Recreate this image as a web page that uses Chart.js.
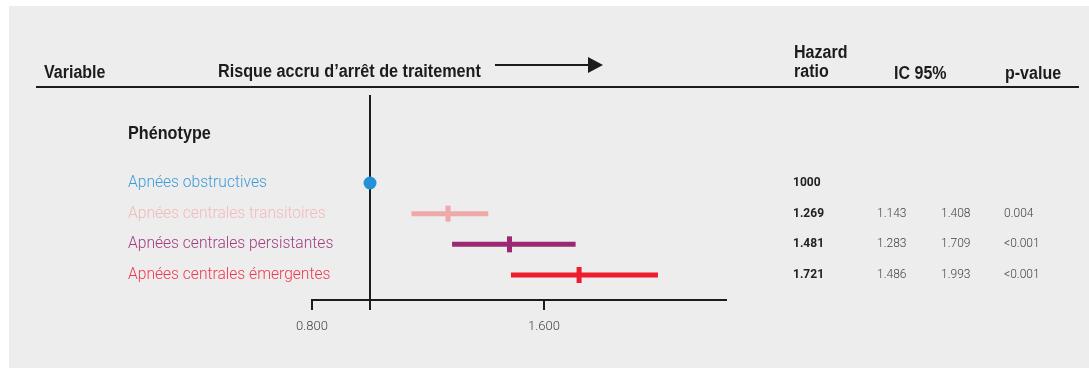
<!DOCTYPE html>
<html lang="fr">
<head>
<meta charset="utf-8">
<title>Phénotype – Hazard ratio</title>
<script src="https://cdn.jsdelivr.net/npm/chart.js@4/dist/chart.umd.min.js"></script>
<style>
  html, body { margin: 0; padding: 0; background: #ffffff; }
  canvas { display: block; }
</style>
</head>
<body>
<canvas id="forest" width="1089" height="368"></canvas>
<script>
// ---- Data ----
const categories = [
  'Apnées obstructives',
  'Apnées centrales transitoires',
  'Apnées centrales persistantes',
  'Apnées centrales émergentes'
];
const hrValues = [1.0, 1.269, 1.481, 1.721];
const hrLabels = ['1000', '1.269', '1.481', '1.721'];
const ciLower = [null, 1.143, 1.283, 1.486];
const ciUpper = [null, 1.408, 1.709, 1.993];
const pValues = ['', '0.004', '<0.001', '<0.001'];
const xTicks = [0.8, 1.6];
const referenceHR = 1.0;

// ---- Styles ----
const markColors  = ['#2490d8', '#f0a9a9', '#9b2872', '#ee1c2c'];
const labelColors = ['#3d9bd8', '#f4b9b9', '#a33b80', '#f0384c'];
const ink = '#1c1c1c';
const headFont = '"Liberation Sans", Arial, sans-serif';
const bodyFont = 'Roboto, "Noto Sans", sans-serif';

// CI segments, one dataset per row that has an interval
const ciDatasets = categories.map((c, i) => ciLower[i] == null ? null : ({
  label: c + ' IC',
  data: [{ x: ciLower[i], y: i }, { x: ciUpper[i], y: i }],
  showLine: true,
  borderColor: markColors[i],
  borderWidth: 5,
  borderCapStyle: 'butt',
  pointRadius: 0,
  order: 2
})).filter(Boolean);

// Point estimates: reference dot, then vertical ticks
const hrDataset = {
  label: 'HR',
  data: hrValues.map((v, i) => ({ x: v, y: i })),
  showLine: false,
  pointStyle: hrValues.map((v, i) => i === 0 ? 'circle' : 'line'),
  pointRadius: hrValues.map((v, i) => i === 0 ? 6.5 : 8),
  pointRotation: hrValues.map((v, i) => i === 0 ? 0 : 90),
  pointBorderWidth: hrValues.map((v, i) => i === 0 ? 0 : 5),
  pointBorderColor: markColors,
  pointBackgroundColor: markColors,
  order: 1
};

function condText(ctx, text, x, y, size, sx) {
  ctx.save();
  ctx.font = 'bold ' + size + 'px ' + headFont;
  ctx.fillStyle = ink;
  ctx.textBaseline = 'alphabetic';
  ctx.translate(x, y);
  ctx.scale(sx, 1);
  ctx.fillText(text, 0, 0);
  ctx.restore();
}

const forestDecor = {
  id: 'forestDecor',
  beforeDraw(chart) {
    const ctx = chart.ctx;
    ctx.save();
    ctx.fillStyle = '#ededed';
    ctx.fillRect(9, 6, chart.width - 9, chart.height - 6);
    ctx.restore();
  },
  beforeDatasetsDraw(chart) {
    const ctx = chart.ctx;
    const xs = chart.scales.x;
    const area = chart.chartArea;
    const xr = Math.round(xs.getPixelForValue(referenceHR));
    ctx.save();
    ctx.strokeStyle = ink;
    ctx.lineWidth = 2;
    ctx.beginPath();
    ctx.moveTo(xr, area.top);
    ctx.lineTo(xr, area.bottom + 10);
    ctx.stroke();
    ctx.restore();
  },
  afterDraw(chart) {
    const ctx = chart.ctx;
    const ys = chart.scales.y;

    // Header row
    condText(ctx, 'Variable', 44, 78, 18, 0.89);
    condText(ctx, 'Risque accru d\u2019arrêt de traitement', 218, 77, 18, 0.9);
    condText(ctx, 'Hazard', 794, 58, 18, 0.89);
    condText(ctx, 'ratio', 794, 77, 18, 0.89);
    condText(ctx, 'IC 95%', 894, 79, 18, 0.89);
    condText(ctx, 'p-value', 1005, 79, 18, 0.89);

    ctx.save();
    // Arrow
    ctx.strokeStyle = ink;
    ctx.fillStyle = ink;
    ctx.lineWidth = 2;
    ctx.beginPath();
    ctx.moveTo(495, 65);
    ctx.lineTo(590, 65);
    ctx.stroke();
    ctx.beginPath();
    ctx.moveTo(588, 57);
    ctx.lineTo(603, 65);
    ctx.lineTo(588, 73);
    ctx.closePath();
    ctx.fill();

    // Header rule
    ctx.lineWidth = 2;
    ctx.beginPath();
    ctx.moveTo(36, 87);
    ctx.lineTo(1079, 87);
    ctx.stroke();
    ctx.restore();

    // Group title
    condText(ctx, 'Phénotype', 128, 139, 18, 0.9);

    // Row labels and table
    ctx.save();
    ctx.textBaseline = 'middle';
    categories.forEach((c, i) => {
      const y = ys.getPixelForValue(i);
      ctx.font = '300 15.6px ' + bodyFont;
      ctx.fillStyle = labelColors[i];
      ctx.fillText(c, 128, y);

      ctx.font = 'bold 12px ' + bodyFont;
      ctx.fillStyle = '#222222';
      ctx.fillText(hrLabels[i], 793, y);

      ctx.font = '300 12px ' + bodyFont;
      ctx.fillStyle = '#444444';
      if (ciLower[i] != null) {
        ctx.fillText(ciLower[i].toFixed(3), 877, y);
        ctx.fillText(ciUpper[i].toFixed(3), 941, y);
      }
      ctx.fillText(pValues[i], 1004, y);
    });
    ctx.restore();
  }
};

new Chart(document.getElementById('forest'), {
  type: 'scatter',
  data: { datasets: [...ciDatasets, hrDataset] },
  options: {
    responsive: false,
    animation: false,
    devicePixelRatio: 1,
    layout: { padding: { left: 312, right: 363, top: 95, bottom: 0 } },
    plugins: { legend: { display: false }, tooltip: { enabled: false } },
    scales: {
      x: {
        type: 'linear',
        min: 0.8,
        max: 2.2276,
        afterBuildTicks: s => { s.ticks = xTicks.map(v => ({ value: v })); },
        afterFit: s => { s.height = 68; },
        grid: {
          display: true,
          drawOnChartArea: false,
          drawTicks: true,
          tickLength: 10,
          color: ink,
          lineWidth: 2
        },
        border: { display: true, color: ink, width: 2 },
        ticks: {
          callback: v => Number(v).toFixed(3),
          font: { family: 'Roboto', size: 13, weight: 300 },
          color: '#444444',
          padding: 9,
          maxRotation: 0,
          autoSkip: false
        }
      },
      y: {
        type: 'linear',
        reverse: true,
        min: -2.869,
        max: 3.815,
        display: false
      }
    }
  },
  plugins: [forestDecor]
});
</script>
</body>
</html>
